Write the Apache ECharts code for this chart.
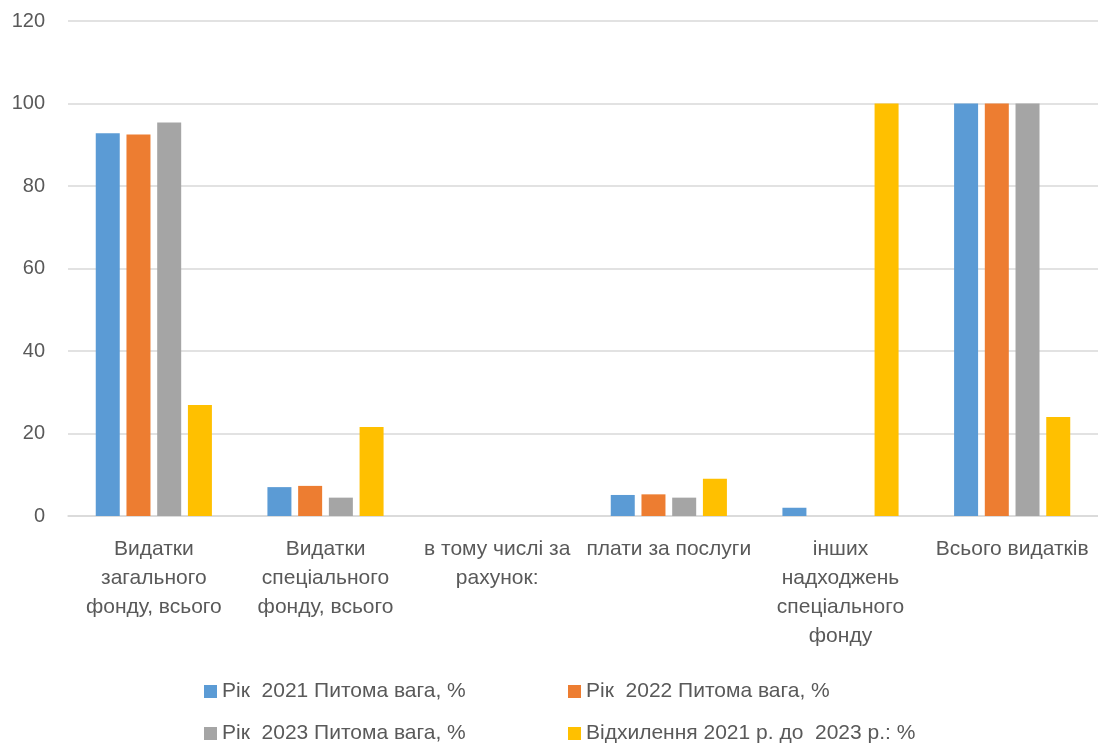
<!DOCTYPE html>
<html>
<head>
<meta charset="utf-8">
<script src="https://cdn.jsdelivr.net/npm/echarts@6/dist/echarts.min.js"></script>
<style>html,body{margin:0;padding:0;background:#fff}#c{width:1098px;height:747px}</style>
</head>
<body>
<div id="c"></div>
<script>
const categories = [
  "Видатки\nзагального\nфонду, всього",
  "Видатки\nспеціального\nфонду, всього",
  "в тому числі за\nрахунок:",
  "плати за послуги",
  "інших\nнадходжень\nспеціального\nфонду",
  "Всього видатків"
];
const seriesNames = [
  "Рік  2021 Питома вага, %",
  "Рік  2022 Питома вага, %",
  "Рік  2023 Питома вага, %",
  "Відхилення 2021 р. до  2023 р.: %"
];
const y2021 = [92.8, 7.0, 0, 5.1, 2.0, 100];
const y2022 = [92.5, 7.3, 0, 5.25, 0, 100];
const y2023 = [95.4, 4.45, 0, 4.45, 0, 100];
const deviation = [26.9, 21.6, 0, 9.05, 100, 24.0];
const yTicks = { min: 0, max: 120, interval: 20 };
const colors = ["#5B9BD5", "#ED7D31", "#A5A5A5", "#FFC000"];

const FONT = "Liberation Sans";
const TXT = "#595959";
const allData = [y2021, y2022, y2023, deviation];

const legendPos = [
  { left: 204, top: 681 },
  { left: 568, top: 681 },
  { left: 204, top: 723 },
  { left: 568, top: 723 }
];

const chart = echarts.init(document.getElementById('c'));
chart.setOption({
  animation: false,
  color: colors,
  textStyle: { fontFamily: FONT },
  grid: { left: 68, right: 0, top: 21, bottom: 231, containLabel: false },
  xAxis: {
    type: 'category',
    data: categories,
    axisLine: { lineStyle: { color: '#D9D9D9', width: 1.5 } },
    axisTick: { show: false },
    axisLabel: { color: TXT, fontSize: 21, fontFamily: FONT, lineHeight: 29, margin: 19, interval: 0 }
  },
  yAxis: {
    type: 'value',
    min: yTicks.min, max: yTicks.max, interval: yTicks.interval,
    axisLine: { show: false },
    axisTick: { show: false },
    splitLine: { lineStyle: { color: '#D9D9D9', width: 1.5 } },
    axisLabel: { color: TXT, fontSize: 20, fontFamily: FONT, margin: 23 }
  },
  legend: seriesNames.map((n, i) => ({
    data: [n],
    left: legendPos[i].left, top: legendPos[i].top,
    padding: 0,
    itemWidth: 13, itemHeight: 13, itemGap: 0,
    icon: 'rect',
    textStyle: { color: TXT, fontSize: 21, fontFamily: FONT }
  })),
  series: seriesNames.map((n, i) => ({
    name: n,
    type: 'bar',
    data: allData[i],
    barWidth: 24,
    barGap: '28%',
    itemStyle: { color: colors[i] }
  }))
});
</script>
</body>
</html>
